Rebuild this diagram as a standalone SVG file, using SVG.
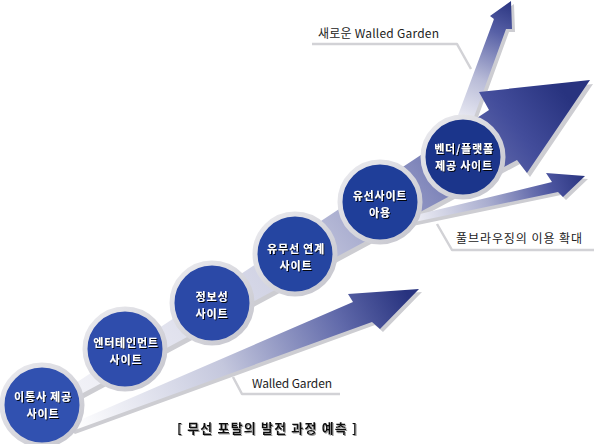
<svg xmlns="http://www.w3.org/2000/svg" width="597" height="444" viewBox="0 0 597 444">
<style>
.ct{font-family:"Noto Sans CJK KR","Noto Sans",sans-serif;font-weight:bold;font-size:11px;letter-spacing:0.8px;fill:#ffffff;text-anchor:middle;filter:url(#tsh)}
.lb{font-family:"Noto Sans CJK KR","Noto Sans",sans-serif;font-size:12px;fill:#222222}
.ttl{font-family:"Noto Sans CJK KR","Noto Sans",sans-serif;font-weight:bold;font-size:13px;fill:#111111;filter:url(#tsh2)}
.ring{stroke:url(#ringg);stroke-width:5}
.call{fill:none;stroke:#d2d2d6;stroke-width:2.5;stroke-linejoin:round}
.shadow{fill:#cdcdd2}
</style>
<defs>
<filter id="tsh" x="-20%" y="-30%" width="140%" height="160%"><feDropShadow dx="1" dy="1" stdDeviation="0" flood-color="#000000" flood-opacity="0.9"/></filter>
<filter id="tsh2" x="-10%" y="-30%" width="120%" height="160%"><feDropShadow dx="1" dy="1" stdDeviation="0" flood-color="#999999" flood-opacity="1"/></filter>
<linearGradient id="ringg" x1="0" y1="0" x2="1" y2="1"><stop offset="0" stop-color="#ececf0"/><stop offset="1" stop-color="#c4c4cc"/></linearGradient>
<linearGradient id="gMain" gradientUnits="userSpaceOnUse" x1="60" y1="420" x2="540" y2="60"><stop offset="0" stop-color="#f6f6fa"/><stop offset="0.45" stop-color="#cfd1e3"/><stop offset="0.72" stop-color="#858bbd"/><stop offset="0.9" stop-color="#434d9b"/><stop offset="1" stop-color="#28337f"/></linearGradient>
<linearGradient id="gBot" gradientUnits="userSpaceOnUse" x1="80" y1="440" x2="400" y2="280"><stop offset="0" stop-color="#ffffff"/><stop offset="0.45" stop-color="#c4c7dd"/><stop offset="0.8" stop-color="#6069aa"/><stop offset="1" stop-color="#28337f"/></linearGradient>
<linearGradient id="gMid" gradientUnits="userSpaceOnUse" x1="410" y1="228" x2="585" y2="172"><stop offset="0" stop-color="#f4f4f8"/><stop offset="0.45" stop-color="#a9adcf"/><stop offset="0.8" stop-color="#4b549f"/><stop offset="1" stop-color="#28337f"/></linearGradient>
<linearGradient id="gTop" gradientUnits="userSpaceOnUse" x1="455" y1="130" x2="511" y2="0"><stop offset="0" stop-color="#f8f8fb"/><stop offset="0.4" stop-color="#b8bbd7"/><stop offset="0.75" stop-color="#5760a6"/><stop offset="1" stop-color="#28337f"/></linearGradient>
</defs>
<rect width="597" height="444" fill="#ffffff"/>
<g id="connectors">
  <g id="arrow-top">
    <polygon class="shadow" transform="translate(3,3)" points="445,150 494,19 490,16 511,1 512,29 506,29 462,150"/>
    <polygon fill="url(#gTop)" points="445,150 494,19 490,16 511,1 512,29 506,29 462,150"/>
  </g>
  <g id="arrow-main">
    <polygon class="shadow" transform="translate(3,4)" points="50,400 489,110 479,92 590,80 527,173 517,160 55,408"/>
    <polygon fill="url(#gMain)" points="50,400 489,110 479,92 590,80 527,173 517,160 55,408"/>
  </g>
  <g id="arrow-mid">
    <polygon class="shadow" transform="translate(3,3)" points="395,220 552,182 546,173 585,176 563,197 558,192 400,225"/>
    <polygon fill="url(#gMid)" points="395,220 552,182 546,173 585,176 563,197 558,192 400,225"/>
  </g>
  <g id="arrow-bottom">
    <polygon class="shadow" transform="translate(3,3)" points="66,426 353,302 348,294 419,289 380,329 372,322 72,431"/>
    <polygon fill="url(#gBot)" points="66,426 353,302 348,294 419,289 380,329 372,322 72,431"/>
  </g>
</g>
<g id="callouts">
  <g id="callout-new">
    <polyline class="call" points="312,44 457,44 471,69"/>
    <text class="lb" x="318" y="38" textLength="121">새로운 Walled Garden</text>
  </g>
  <g id="callout-full">
    <polyline class="call" points="437,224 452,250 594,250"/>
    <text class="lb" x="456" y="243" textLength="126">풀브라우징의 이용 확대</text>
  </g>
  <g id="callout-wg">
    <polyline class="call" points="233,377 242,394 340,394"/>
    <text class="lb" x="252" y="388" textLength="80">Walled Garden</text>
  </g>
</g>
<g id="node1">
  <circle class="ring" cx="42" cy="405" r="40" fill="#3151b0"/>
  <text class="ct"><tspan x="43" y="401">이통사 제공</tspan><tspan x="43" y="418">사이트</tspan></text>
</g>
<g id="node2">
  <circle class="ring" cx="125" cy="349" r="40" fill="#2f4dac"/>
  <text class="ct"><tspan x="126" y="347">엔터테인먼트</tspan><tspan x="126" y="364">사이트</tspan></text>
</g>
<g id="node3">
  <circle class="ring" cx="212" cy="303" r="40" fill="#2b49a7"/>
  <text class="ct"><tspan x="212" y="301">정보성</tspan><tspan x="212" y="318">사이트</tspan></text>
</g>
<g id="node4">
  <circle class="ring" cx="295" cy="254" r="40" fill="#2545a1"/>
  <text class="ct"><tspan x="296" y="253">유무선 연계</tspan><tspan x="296" y="270">사이트</tspan></text>
</g>
<g id="node5">
  <circle class="ring" cx="380" cy="202" r="40" fill="#1f3e99"/>
  <text class="ct"><tspan x="380" y="200">유선사이트</tspan><tspan x="380" y="217">아용</tspan></text>
</g>
<g id="node6">
  <circle class="ring" cx="463" cy="157" r="40" fill="#1b358b"/>
  <text class="ct"><tspan x="464" y="153">벤더/플랫폼</tspan><tspan x="464" y="170">제공 사이트</tspan></text>
</g>
<g id="title">
  <text class="ttl" x="177" y="433" textLength="180">[ 무선 포탈의 발전 과정 예측 ]</text>
</g>
</svg>
